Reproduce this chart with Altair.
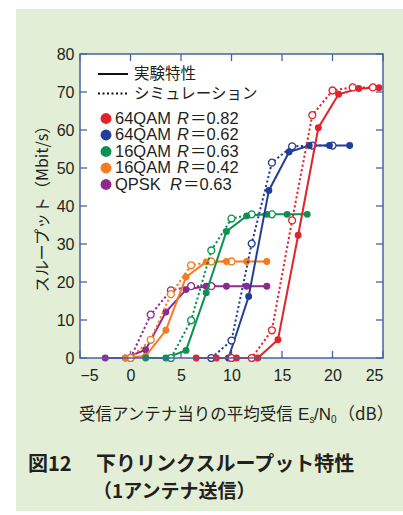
import altair as alt
import pandas as pd

# ---------------- data ----------------
X_TICKS = [-5, 0, 5, 10, 15, 20, 25]
Y_TICKS = [0, 10, 20, 30, 40, 50, 60, 70, 80]

series_keys = ["purple", "orange", "green", "blue", "red"]          # drawing order
legend_keys = ["red", "blue", "green", "orange", "purple"]          # legend order
modulation = {"red": "64QAM", "blue": "64QAM", "green": "16QAM", "orange": "16QAM", "purple": "QPSK"}
coding_rate = {"red": "0.82", "blue": "0.62", "green": "0.63", "orange": "0.42", "purple": "0.63"}
colors = {"red": "#e2232a", "blue": "#233e96", "green": "#0c9150", "orange": "#f47b20", "purple": "#8d2a8e"}

red_exp_x = [6.5, 8.5, 10.5, 12.6, 14.6, 16.6, 18.6, 20.6, 22.6, 24.6]
red_exp_y = [0, 0, 0, 0, 4.8, 32.3, 60.6, 69.4, 70.9, 71.1]
red_sim_x = [10, 12, 14, 16, 18, 20, 22, 24]
red_sim_y = [0, 0, 7.3, 36.2, 63.9, 70.4, 71.2, 71.2]

blue_exp_x = [9.7, 11.7, 13.7, 15.7, 17.7, 19.7, 21.7]
blue_exp_y = [0, 16.2, 44.1, 54.2, 55.9, 55.9, 55.9]
blue_sim_x = [8, 10, 12, 14, 16, 18, 20]
blue_sim_y = [0, 4.6, 30.1, 51.4, 55.7, 55.9, 55.9]

green_exp_x = [1.5, 3.5, 5.5, 7.5, 9.5, 11.5, 13.5, 15.5, 17.5]
green_exp_y = [0, 0, 2.0, 17.2, 33.3, 37.4, 37.8, 37.8, 37.8]
green_sim_x = [4, 6, 8, 10, 12, 14]
green_sim_y = [0, 9.9, 28.3, 36.7, 37.8, 37.8]

orange_exp_x = [-0.5, 1.5, 3.5, 5.5, 7.5, 9.5, 11.5, 13.5]
orange_exp_y = [0, 0.5, 7.3, 21.3, 25.3, 25.4, 25.4, 25.4]
orange_sim_x = [0, 2, 4, 6, 8, 10]
orange_sim_y = [0, 4.8, 16.8, 24.4, 25.4, 25.4]

purple_exp_x = [-2.5, -0.5, 1.5, 3.5, 5.5, 7.5, 9.5, 11.5, 13.5]
purple_exp_y = [0, 0, 2.2, 12.1, 18.0, 18.9, 18.9, 18.9, 18.9]
purple_sim_x = [0, 2, 4, 6, 8]
purple_sim_y = [0, 11.4, 17.8, 18.9, 18.9]

exp_data = {"red": (red_exp_x, red_exp_y), "blue": (blue_exp_x, blue_exp_y),
            "green": (green_exp_x, green_exp_y), "orange": (orange_exp_x, orange_exp_y),
            "purple": (purple_exp_x, purple_exp_y)}
sim_data = {"red": (red_sim_x, red_sim_y), "blue": (blue_sim_x, blue_sim_y),
            "green": (green_sim_x, green_sim_y), "orange": (orange_sim_x, orange_sim_y),
            "purple": (purple_sim_x, purple_sim_y)}

legend_solid = "実験特性"
legend_dotted = "シミュレーション"
y_title = "スループット（Mbit/s）"
x_title_main = "受信アンテナ当りの平均受信"
caption_num = "図12"
caption_1 = "下りリンクスループット特性"
caption_2 = "（1アンテナ送信）"

# ---------------- styling ----------------
W, H = 303, 304
FONT = "'Liberation Sans', Arial, 'Noto Sans CJK JP', sans-serif"
JFONT = "'Noto Sans CJK JP', sans-serif"
TXT = "#231f20"
FRAME = "#4a62a8"
BG = "#e2efd6"

xs = alt.Scale(domain=[-5, 25], nice=False, zero=False)
ys = alt.Scale(domain=[0, 80], nice=False)
x_axis = alt.Axis(values=X_TICKS, ticks=False, domain=False, grid=False, title=None, zindex=1,
                  labelExpr="datum.value < 0 ? '−' + abs(datum.value) : datum.label",
                  labelFontSize=16, labelFont=FONT, labelColor=TXT, labelPadding=9)
y_axis = alt.Axis(values=Y_TICKS, ticks=False, domain=False, grid=False, title=None, zindex=1,
                  labelFontSize=16, labelFont=FONT, labelColor=TXT, labelPadding=6)
X = alt.X("x:Q", scale=xs, axis=x_axis)
Y = alt.Y("y:Q", scale=ys, axis=y_axis)

one = alt.Data(values=[{"a": 1}])


def deco_rect(x1, x2, y1, y2, **kw):
    return alt.Chart(one).mark_rect(**kw).encode(
        x=alt.value(x1), x2=alt.value(x2), y=alt.value(y1), y2=alt.value(y2))


def text(s, x, y, size=16, font=FONT, align="left", **kw):
    return alt.Chart(one).mark_text(text=s, fontSize=size, font=font, align=align,
                                    baseline="middle", color=kw.pop("color", TXT), **kw).encode(
        x=alt.value(x), y=alt.value(y))


layers = []
# green panel and white plot area
layers.append(deco_rect(-64, 323, -45, 457, fill=BG))
layers.append(deco_rect(0, W, 0, H, fill="white"))

# inward ticks on all four sides
xt = pd.DataFrame({"x": X_TICKS})
yt = pd.DataFrame({"y": Y_TICKS})
tick_style = dict(color=FRAME, strokeWidth=1.3)
layers.append(alt.Chart(xt).mark_rule(**tick_style).encode(x=X, y=alt.value(H), y2=alt.value(H - 7)))
layers.append(alt.Chart(xt).mark_rule(**tick_style).encode(x=X, y=alt.value(0), y2=alt.value(7)))
layers.append(alt.Chart(yt).mark_rule(**tick_style).encode(y=Y, x=alt.value(0), x2=alt.value(7)))
layers.append(alt.Chart(yt).mark_rule(**tick_style).encode(y=Y, x=alt.value(W), x2=alt.value(W - 7)))

# data series
for k in series_keys:
    c = colors[k]
    ex, ey = exp_data[k]
    sx, sy = sim_data[k]
    dfe = pd.DataFrame({"x": ex, "y": ey})
    dfs = pd.DataFrame({"x": sx, "y": sy})
    layers.append(alt.Chart(dfs).mark_line(color=c, strokeWidth=2, strokeDash=[2.2, 2.4]).encode(x=X, y=Y))
    layers.append(alt.Chart(dfe).mark_line(color=c, strokeWidth=2).encode(x=X, y=Y))
    layers.append(alt.Chart(dfs).mark_point(shape="circle", size=48, fill="white", filled=False,
                                            stroke=c, strokeWidth=1.3, opacity=1).encode(x=X, y=Y))
    layers.append(alt.Chart(dfe).mark_point(shape="circle", size=48, filled=True, color=c,
                                            opacity=1).encode(x=X, y=Y))

# frame
layers.append(deco_rect(0, W, 0, H, fillOpacity=0, stroke=FRAME, strokeWidth=1.5))

# legend
layers.append(alt.Chart(one).mark_rule(color="#111", strokeWidth=2).encode(
    x=alt.value(18), x2=alt.value(48), y=alt.value(20)))
layers.append(alt.Chart(one).mark_rule(color="#111", strokeWidth=2, strokeDash=[2, 2.5]).encode(
    x=alt.value(18), x2=alt.value(48), y=alt.value(39.5)))
layers.append(text(legend_solid, 54, 20, size=15.5, font=JFONT))
layers.append(text(legend_dotted, 54, 39.5, size=15.5, font=JFONT))

row_y = [64.5, 81, 97.5, 114, 130.5]
for k, yy in zip(legend_keys, row_y):
    layers.append(alt.Chart(one).mark_point(shape="circle", size=120, filled=True, color=colors[k],
                                            opacity=1).encode(x=alt.value(26), y=alt.value(yy)))
    name = modulation[k]
    layers.append(text(name, 35, yy, size=16.5))
    rx = 97 if name != "QPSK" else 90
    layers.append(text("R", rx, yy, size=16.5, fontStyle="italic"))
    layers.append(text("＝" + coding_rate[k], rx + 13, yy, size=16.5))

# y axis title
layers.append(text(y_title, -37, 151, size=16, font=JFONT, align="center", angle=270))

# x axis title with subscripts
xt_y = 361
layers.append(text(x_title_main, -1, xt_y, size=16.5, font=JFONT))
layers.append(text("E", 218, xt_y, size=17))
layers.append(text("s", 229.5, xt_y + 5, size=10))
layers.append(text("/N", 234, xt_y, size=17))
layers.append(text("0", 251, xt_y + 5, size=10))
layers.append(text("（dB）", 258, xt_y, size=17, font=JFONT))

# caption
layers.append(text(caption_num, -52, 411, size=20, font=JFONT, fontWeight="bold"))
layers.append(text(caption_1, 16, 411, size=20, font=JFONT, fontWeight="bold"))
layers.append(text(caption_2, 13, 438, size=19, font=JFONT, fontWeight="bold"))

chart = alt.layer(*layers).properties(
    width=W, height=H,
    autosize=alt.AutoSizeParams(type="none"),
    padding={"left": 80, "top": 54, "right": 20, "bottom": 157},
    background="white",
).configure_view(strokeWidth=0)

chart.save("out.html", embed_options={"renderer": "svg", "actions": False})
